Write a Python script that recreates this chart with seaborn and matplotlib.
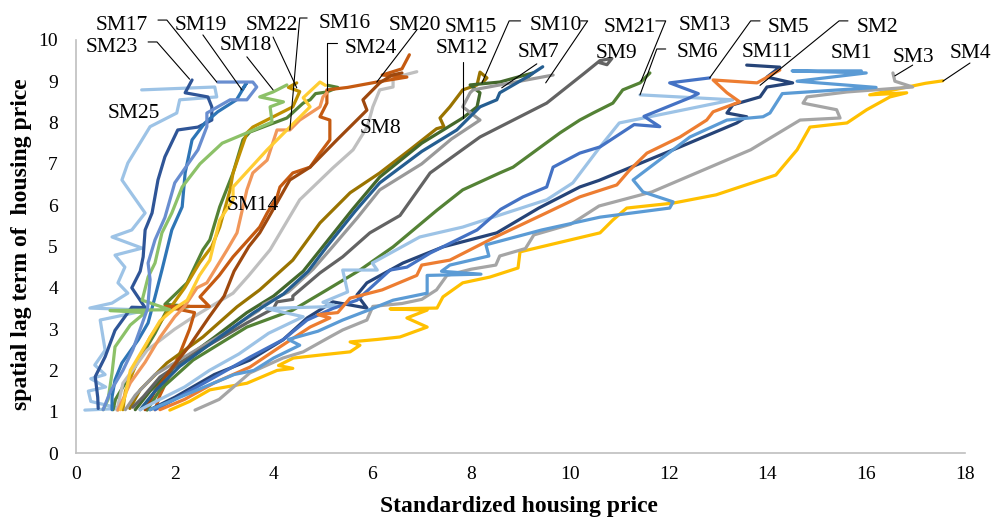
import numpy as np
import pandas as pd
import matplotlib
matplotlib.use("Agg")
import matplotlib.pyplot as plt
import seaborn as sns

# ---- trajectories: (standardized price, spatial lag) per submarket ----
sm1 = np.array([[1.5, 1.05], [2.0, 1.3], [2.6, 1.6], [3.2, 1.9], [3.6, 2.0], [4.0, 2.3], [4.53, 2.61],
                [4.3, 2.75], [4.9, 2.95], [5.4, 3.22], [5.9, 3.45], [6.42, 3.7], [7.11, 3.87], [7.11, 4.3],
                [8.2, 4.33], [7.4, 4.4], [7.57, 4.55], [8.36, 4.77], [8.3, 5.04], [9.43, 5.4], [10.61, 5.71],
                [12.02, 5.93], [12.09, 6.08], [11.48, 6.32], [11.28, 6.61], [12.43, 7.65], [13.18, 8.06],
                [13.91, 8.14], [14.05, 8.23], [14.3, 8.7], [16.2, 8.85], [14.6, 9.0], [16.0, 9.2],
                [14.5, 9.25], [15.9, 9.25]])
sm2 = np.array([[1.7, 1.05], [2.2, 1.3], [2.8, 1.7], [3.52, 2.08], [4.13, 2.57], [4.74, 3.05], [5.14, 3.27],
                [4.9, 3.35], [5.3, 3.4], [5.55, 3.75], [6.2, 3.95], [6.9, 4.3], [7.0, 4.55], [7.57, 4.67],
                [8.44, 5.2], [9.5, 5.8], [10.2, 6.2], [10.95, 6.49], [11.21, 6.85], [11.56, 7.26],
                [12.23, 7.65], [12.77, 8.06], [12.9, 8.26], [13.44, 8.5], [13.18, 8.72], [12.9, 9.03],
                [13.79, 8.96], [14.25, 9.27]])
sm3 = np.array([[2.41, 1.04], [2.9, 1.3], [3.52, 1.94], [4.19, 2.3], [4.6, 2.45], [5.14, 2.81], [5.4, 2.98],
                [5.89, 3.22], [6.01, 3.55], [6.6, 3.62], [7.0, 3.72], [7.3, 3.95], [7.51, 4.3], [8.0, 4.45],
                [8.5, 4.55], [8.58, 4.77], [9.1, 4.95], [9.27, 5.28], [10.02, 5.54], [10.59, 5.98],
                [11.66, 6.32], [12.7, 6.85], [13.66, 7.34], [14.66, 8.06], [15.47, 8.11], [15.4, 8.31],
                [14.72, 8.47], [14.8, 8.62], [15.61, 8.74], [16.94, 8.86], [16.58, 9.0], [16.54, 9.2]])
sm4 = np.array([[1.9, 1.04], [2.3, 1.25], [2.71, 1.53], [3.46, 1.69], [4.07, 2.0], [4.39, 2.05], [4.1, 2.12],
                [4.4, 2.3], [5.0, 2.38], [5.55, 2.45], [5.75, 2.61], [5.55, 2.69], [6.1, 2.75], [6.56, 2.81],
                [7.11, 3.05], [6.7, 3.27], [7.11, 3.46], [6.36, 3.49], [7.31, 3.51], [7.43, 3.78],
                [7.83, 4.12], [8.38, 4.26], [8.95, 4.48], [8.99, 4.87], [9.8, 5.1], [10.61, 5.33],
                [10.87, 5.64], [11.15, 5.93], [12.09, 6.05], [12.96, 6.25], [14.17, 6.73], [14.6, 7.34],
                [14.86, 7.89], [15.61, 7.99], [16.01, 8.31], [16.48, 8.62], [16.82, 8.72], [16.07, 8.67],
                [17.2, 8.95], [17.55, 9.01]])
sm5 = np.array([[1.6, 1.05], [2.0, 1.3], [2.6, 1.7], [3.52, 2.32], [4.2, 2.75], [4.68, 3.22], [5.2, 3.5],
                [5.69, 3.7], [6.36, 4.43], [6.7, 4.5], [7.17, 4.84], [8.12, 5.4], [8.6, 5.9], [9.05, 6.2],
                [9.53, 6.44], [9.66, 6.92], [10.2, 7.26], [10.61, 7.41], [11.3, 7.95], [11.82, 7.9],
                [11.5, 8.15], [12.43, 8.6], [12.6, 8.7], [12.02, 8.96], [12.83, 9.08]])
sm6 = np.array([[1.3, 1.05], [1.7, 1.3], [2.2, 1.6], [2.7, 2.0], [3.3, 2.4], [3.9, 2.9], [4.6, 3.3],
                [3.85, 3.5], [5.3, 3.55], [5.0, 3.65], [5.5, 3.9], [5.4, 4.43], [6.1, 4.43], [6.0, 4.6],
                [6.96, 5.23], [7.83, 5.47], [9.53, 6.13], [10.06, 6.54], [10.61, 7.41], [11.0, 7.99],
                [13.3, 8.55], [11.42, 8.67]])
sm7 = np.array([[1.3, 1.05], [1.6, 1.5], [2.1, 2.1], [2.9, 2.8], [3.6, 3.4], [4.2, 3.85], [4.7, 4.4],
                [5.08, 5.0], [5.65, 5.85], [6.15, 6.54], [7.0, 7.3], [7.71, 7.82], [8.18, 8.38],
                [8.52, 8.55], [8.58, 8.72], [9.13, 9.1], [9.45, 9.35]])
sm8 = np.array([[1.4, 1.05], [1.6, 1.5], [1.9, 2.0], [2.3, 2.6], [2.7, 3.3], [3.0, 3.8], [3.2, 4.4],
                [3.5, 5.0], [3.72, 5.33], [3.87, 5.64], [4.33, 6.61], [4.74, 6.92], [5.3, 7.6],
                [5.89, 8.3], [5.81, 8.55], [6.15, 8.96], [6.4, 9.15], [6.6, 9.2]])
sm9 = np.array([[1.15, 1.11], [1.36, 1.36], [1.7, 1.84], [2.51, 2.49], [3.46, 3.15], [4.0, 3.5],
                [4.07, 3.66], [4.39, 3.72], [4.39, 3.8], [4.94, 4.36], [5.4, 4.75], [5.95, 5.33],
                [6.56, 5.75], [7.17, 6.78], [8.18, 7.65], [9.53, 8.47], [10.3, 9.2], [10.61, 9.5],
                [10.85, 9.55], [10.75, 9.4], [10.6, 9.45]])
sm10 = np.array([[1.0, 1.05], [1.2, 1.4], [1.6, 1.9], [2.3, 2.4], [3.0, 2.9], [3.7, 3.45], [3.8, 3.6],
                 [4.3, 3.9], [4.8, 4.45], [5.2, 5.0], [5.7, 5.7], [6.15, 6.37], [7.0, 7.0], [7.6, 7.6],
                 [8.18, 8.06], [7.83, 8.38], [7.98, 8.72], [8.04, 8.79], [9.66, 9.15]])
sm11 = np.array([[1.5, 1.05], [2.0, 1.35], [2.8, 1.9], [3.52, 2.25], [4.19, 2.74], [4.68, 3.27],
                 [5.2, 3.66], [5.89, 3.51], [5.69, 3.83], [5.89, 4.12], [6.62, 4.6], [7.43, 4.99],
                 [8.52, 5.33], [9.37, 5.93], [10.2, 6.44], [10.59, 6.6], [12.23, 7.41], [13.38, 7.99],
                 [13.58, 8.14], [13.18, 8.23], [13.3, 8.43], [13.85, 8.62], [13.99, 8.86], [14.51, 8.96],
                 [13.99, 9.1], [14.25, 9.34], [13.58, 9.39]])
sm12 = np.array([[1.2, 1.05], [1.5, 1.5], [2.0, 2.1], [2.8, 2.8], [3.46, 3.4], [4.0, 3.8], [4.6, 4.4],
                 [5.0, 5.0], [5.6, 5.9], [6.15, 6.68], [7.0, 7.5], [7.83, 8.11], [8.12, 8.38],
                 [8.18, 8.72], [7.98, 8.91], [8.58, 8.98], [9.25, 9.2], [9.13, 9.08]])
sm13 = np.array([[1.44, 1.04], [1.7, 1.53], [2.37, 2.25], [3.46, 3.05], [4.39, 3.46], [5.08, 3.95],
                 [5.75, 4.43], [6.42, 4.99], [7.31, 5.88], [7.83, 6.37], [8.58, 6.78], [8.85, 6.92],
                 [9.8, 7.75], [10.2, 8.06], [10.47, 8.23], [10.87, 8.47], [11.07, 8.79], [11.42, 8.96],
                 [11.62, 9.2]])
sm14 = np.array([[0.9, 1.05], [1.0, 1.4], [1.1, 2.0], [1.4, 2.6], [1.7, 3.2], [2.0, 3.5], [2.25, 3.7],
                 [2.5, 4.3], [2.71, 4.67], [2.91, 5.64], [3.18, 6.13], [3.18, 6.44], [3.87, 7.34],
                 [4.33, 7.89], [4.74, 8.38], [4.6, 8.6], [4.94, 8.98], [5.05, 8.9]])
sm15 = np.array([[1.09, 1.08], [1.3, 1.53], [1.84, 2.18], [2.57, 2.81], [3.26, 3.54], [3.72, 3.95],
                 [4.39, 4.67], [4.94, 5.57], [5.55, 6.3], [6.15, 6.78], [6.76, 7.34], [7.3, 7.85],
                 [7.45, 7.9], [7.37, 8.11], [7.57, 8.38], [7.83, 8.79], [8.12, 8.91], [8.18, 9.22],
                 [8.32, 9.08], [8.24, 8.98]])
sm16 = np.array([[0.85, 1.04], [0.95, 1.3], [1.1, 1.7], [1.4, 2.2], [1.7, 2.8], [2.0, 3.3], [2.2, 3.55],
                 [2.45, 4.0], [2.65, 4.12], [3.06, 4.92], [3.26, 5.33], [3.32, 5.64], [3.46, 6.37],
                 [3.58, 6.78], [3.87, 7.09], [4.07, 7.82], [4.33, 7.82], [4.53, 8.06], [4.94, 8.38],
                 [5.0, 8.62], [5.08, 8.72]])
sm17 = np.array([[0.55, 1.05], [0.7, 1.5], [0.95, 2.0], [1.15, 2.5], [1.3, 3.0], [1.45, 3.5], [1.5, 4.2],
                 [1.46, 4.6], [1.6, 5.16], [1.8, 5.7], [2.0, 6.54], [2.47, 7.34], [2.65, 7.9],
                 [2.65, 8.23], [3.12, 8.55], [3.46, 8.55], [3.66, 8.86], [3.58, 8.98], [2.87, 8.98]])
sm18 = np.array([[0.55, 1.05], [0.65, 1.3], [0.73, 1.94], [0.79, 2.57], [1.1, 3.1], [1.4, 3.4],
                 [0.69, 3.45], [1.9, 3.47], [1.34, 3.7], [1.46, 4.26], [1.6, 4.6], [1.74, 5.33],
                 [1.94, 5.81], [2.15, 6.44], [2.51, 7.0], [2.96, 7.5], [3.46, 7.75], [3.97, 8.01],
                 [3.93, 8.38], [4.2, 8.5], [3.72, 8.62], [3.99, 8.74], [4.27, 8.91]])
sm19 = np.array([[0.73, 1.05], [0.73, 1.36], [0.79, 1.77], [0.93, 2.18], [1.26, 2.74], [1.46, 3.15],
                 [1.6, 3.78], [1.74, 4.43], [1.94, 5.4], [2.15, 5.96], [2.21, 6.78], [2.35, 7.58],
                 [2.61, 7.99], [2.87, 8.26], [3.25, 8.55], [3.45, 8.95], [3.36, 8.79]])
sm20 = np.array([[1.6, 1.05], [1.7, 1.4], [1.9, 1.9], [2.1, 2.4], [2.3, 3.0], [2.4, 3.4], [1.8, 3.55],
                 [2.7, 3.55], [2.51, 3.78], [2.9, 4.3], [3.18, 4.75], [3.72, 5.47], [3.87, 5.81],
                 [4.07, 6.2], [4.13, 6.44], [4.39, 6.78], [4.74, 6.92], [4.94, 7.26], [5.14, 7.58],
                 [5.14, 8.06], [4.94, 8.14], [5.08, 8.47], [5.08, 8.79], [5.5, 8.85], [6.09, 8.98],
                 [6.7, 9.1], [6.2, 9.15], [6.6, 9.3], [6.75, 9.64]])
sm21 = np.array([[0.83, 1.04], [0.95, 1.69], [1.44, 2.49], [2.0, 3.0], [2.37, 3.29], [3.18, 3.87],
                 [3.5, 4.3], [3.93, 4.92], [4.53, 6.13], [5.2, 6.9], [5.61, 7.34], [5.9, 7.9],
                 [6.01, 8.38], [6.15, 8.79], [6.42, 8.86], [6.42, 9.08], [6.9, 9.23]])
sm22 = np.array([[0.95, 1.05], [1.0, 1.5], [1.2, 2.1], [1.5, 2.8], [1.9, 3.5], [2.2, 4.0], [2.5, 4.6],
                 [2.75, 5.0], [2.91, 5.47], [3.12, 6.37], [3.18, 6.78], [3.46, 7.75], [3.58, 7.89],
                 [4.39, 8.38], [4.53, 8.75], [4.3, 8.85], [4.47, 8.96]])
sm23 = np.array([[0.45, 1.08], [0.44, 1.35], [0.39, 1.85], [0.59, 2.33], [0.79, 2.97], [1.13, 3.53],
                 [1.4, 3.52], [1.13, 4.0], [1.3, 4.4], [1.36, 4.75], [1.4, 5.4], [1.54, 5.81],
                 [1.66, 6.61], [1.8, 7.17], [2.06, 7.82], [2.47, 7.89], [2.75, 8.06], [2.75, 8.38],
                 [2.67, 8.62], [2.21, 8.72], [2.35, 9.03]])
sm24 = np.array([[0.75, 1.05], [0.8, 1.3], [1.0, 1.7], [1.3, 2.3], [1.6, 2.9], [1.84, 3.46], [2.3, 3.55],
                 [1.8, 3.6], [2.25, 4.12], [2.57, 4.92], [2.71, 5.16], [2.91, 5.96], [3.18, 6.78],
                 [3.38, 7.58], [3.52, 7.77], [4.27, 8.11], [4.6, 8.47], [4.74, 8.55], [4.85, 8.7],
                 [5.08, 8.74], [5.3, 8.85], [5.1, 8.9]])
sm25 = np.array([[0.18, 1.04], [0.9, 1.08], [0.3, 1.25], [0.25, 1.5], [0.6, 1.6], [0.3, 1.8],
                 [0.59, 1.9], [0.38, 2.13], [0.59, 2.49], [0.49, 3.22], [1.44, 3.46], [0.28, 3.51],
                 [0.73, 3.63], [1.05, 3.87], [0.85, 4.12], [0.99, 4.5], [0.79, 4.79], [1.34, 4.96],
                 [0.73, 5.23], [1.13, 5.4], [1.4, 5.81], [0.93, 6.61], [1.05, 7.02], [1.5, 7.9],
                 [2.04, 8.23], [2.1, 8.55], [2.85, 8.62], [2.81, 8.86], [1.33, 8.79]])

series_names = [f"SM{i}" for i in range(1, 26)]
series_data = [sm1, sm2, sm3, sm4, sm5, sm6, sm7, sm8, sm9, sm10, sm11, sm12, sm13,
               sm14, sm15, sm16, sm17, sm18, sm19, sm20, sm21, sm22, sm23, sm24, sm25]
series_colors = ["#5B9BD5", "#ED7D31", "#A5A5A5", "#FFC000", "#4472C4", "#9DC3E6", "#255E91",
                 "#9E480E", "#636363", "#999999", "#264478", "#43682B", "#548235", "#FFCD33",
                 "#997300", "#F1975A", "#698ED0", "#8CC168", "#2E75B6", "#C55A11", "#BFBFBF",
                 "#BF9000", "#2F5597", "#548235", "#9DC3E6"]

# ---- data labels: text, anchor (baseline centre) and leader polylines ----
label_text = ["SM17", "SM19", "SM22", "SM16", "SM20", "SM15", "SM10", "SM21", "SM13", "SM5", "SM2",
              "SM23", "SM18", "SM24", "SM12", "SM7", "SM9", "SM6", "SM11", "SM1", "SM3", "SM4",
              "SM25", "SM8", "SM14"]
label_x = [0.93, 2.53, 3.97, 5.45, 6.86, 8.0, 9.71, 11.21, 12.73, 14.43, 16.23,
           0.73, 3.44, 5.97, 7.82, 9.37, 10.95, 12.59, 13.99, 15.69, 16.96, 18.1,
           1.17, 6.17, 3.58]
label_y = [10.24, 10.24, 10.24, 10.29, 10.24, 10.19, 10.24, 10.19, 10.24, 10.19, 10.19,
           9.71, 9.76, 9.69, 9.69, 9.59, 9.56, 9.59, 9.59, 9.56, 9.47, 9.56,
           8.11, 7.75, 5.88]

leader_x = [[1.66, 1.84, 2.85], [2.57, 3.36], [3.99, 4.47], [4.68, 4.53, 4.33], [6.9, 6.09],
            [9.0, 8.77, 8.22], [10.22, 10.36, 9.51], [11.74, 11.94, 11.44], [11.94, 11.76, 11.42],
            [13.85, 13.66, 12.83], [15.63, 15.45, 13.85], [1.46, 1.64, 2.3], [3.46, 3.99],
            [5.28, 5.08, 5.08], [7.83, 7.83], [9.33, 8.62], [16.94, 16.58], [18.1, 17.55]]
leader_y = [[10.48, 10.48, 8.98], [10.12, 8.79], [10.07, 8.84], [10.53, 10.53, 7.82], [10.24, 8.98],
            [10.46, 10.46, 8.96], [10.46, 10.46, 8.96], [10.46, 10.46, 9.0], [9.78, 9.78, 8.67],
            [10.46, 10.46, 9.08], [10.46, 10.46, 8.9], [9.95, 9.95, 9.05], [9.59, 8.79],
            [9.93, 9.93, 8.79], [9.47, 8.11], [9.42, 8.84], [9.39, 9.13], [9.44, 9.0]]

x_ticks = list(range(0, 19, 2))
y_ticks = list(range(0, 11))

# ---- long-form table for seaborn ----
frames = []
for name, pts in zip(series_names, series_data):
    frames.append(pd.DataFrame({"series": name, "step": np.arange(len(pts)),
                                "price": pts[:, 0], "lag": pts[:, 1]}))
df = pd.concat(frames, ignore_index=True)

sns.set_theme(style="white")
plt.rcParams["font.family"] = ["Liberation Serif", "DejaVu Serif"]

fig = plt.figure(figsize=(9.92, 5.25), dpi=100)
ax = fig.add_axes([0.0766, 0.137, 0.8962, 0.787])

sns.lineplot(data=df, x="price", y="lag", hue="series", hue_order=series_names[::-1],
             palette=dict(zip(series_names, series_colors)), sort=False, estimator=None,
             units="series", linewidth=2.3, legend=False, ax=ax)
for line in ax.get_lines():
    line.set_solid_joinstyle("round")
    line.set_solid_capstyle("round")

# leader lines and labels
for lx, ly in zip(leader_x, leader_y):
    ax.plot(lx, ly, color="black", linewidth=0.8, clip_on=False, zorder=5)
for t, x, y in zip(label_text, label_x, label_y):
    ax.text(x, y, t, ha="center", va="baseline", fontsize=15.5, color="black",
            clip_on=False, zorder=6)

ax.set_xlim(0, 18)
ax.set_ylim(0, 10)
ax.set_xticks(x_ticks)
ax.set_yticks(y_ticks)
ax.tick_params(axis="both", which="major", direction="out", length=5, width=1,
               color="#BFBFBF", labelsize=14, labelcolor="black")
ax.tick_params(axis="x", pad=4)
ax.tick_params(axis="y", pad=8)
for side in ("top", "right"):
    ax.spines[side].set_visible(False)
for side in ("left", "bottom"):
    ax.spines[side].set_color("#BFBFBF")
    ax.spines[side].set_linewidth(1.2)

ax.set_xlabel("Standardized housing price", fontsize=17, fontweight="bold", color="black")
ax.set_ylabel("spatial lag term of  housing price", fontsize=17, fontweight="bold", color="black")
ax.xaxis.set_label_coords(0.498, -0.105)
ax.yaxis.set_label_coords(-0.05, 0.505)

fig.savefig("out.png", dpi=100)
